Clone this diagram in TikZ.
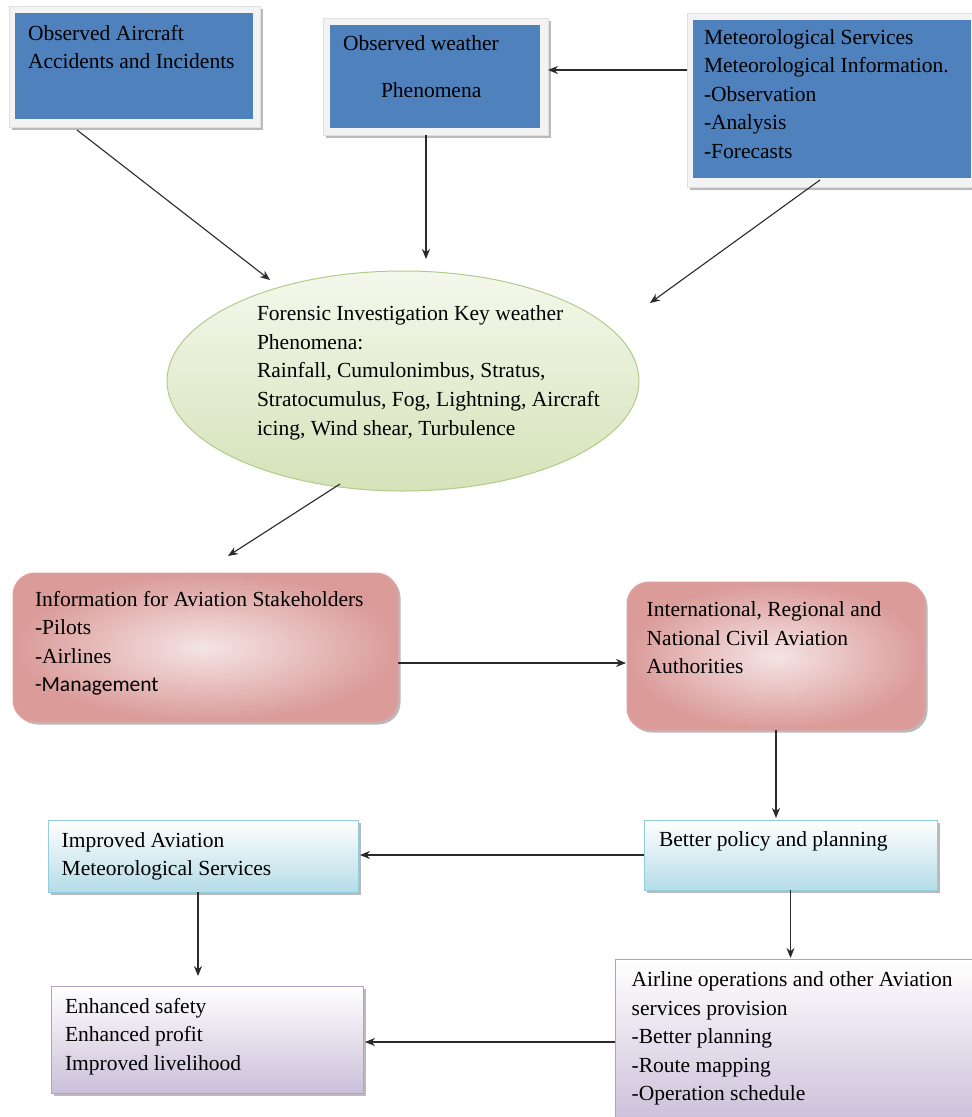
\documentclass[tikz,border=0pt]{standalone}
\usepackage{fontspec}
\setmainfont{Liberation Serif}
\newfontfamily\calib{Carlito}
\usetikzlibrary{shadows,shapes.geometric,arrows.meta,calc,fit}
\definecolor{bluebox}{HTML}{4F81BD}
\definecolor{framefill}{HTML}{F3F3F3}
\definecolor{ellTop}{HTML}{F4F8EC}
\definecolor{ellBot}{HTML}{D5E2B9}
\definecolor{ellLine}{HTML}{B3CB8A}
\definecolor{pinkD}{HTML}{DA9B99}
\definecolor{pinkL}{HTML}{F5E4E4}
\definecolor{pinkLine}{HTML}{DDA4A2}
\definecolor{lbBot}{HTML}{B5DCE7}
\definecolor{lbLine}{HTML}{93CDDD}
\definecolor{puBot}{HTML}{CBBFD9}
\definecolor{puLine}{HTML}{B3A2C7}
\definecolor{arrowcol}{HTML}{2A2A2A}
\begin{document}
\begin{tikzpicture}[x=1pt,y=-1pt,
  box/.style={inner sep=0pt, outer sep=0pt},
  shadowed/.style={drop shadow={shadow xshift=2.5pt,shadow yshift=-2.5pt,fill=black!45,opacity=0.6}},
  framebox/.style={box, fill=framefill, draw=black!12, line width=0.5pt, shadowed},
  bluefill/.style={box, fill=bluebox},
  ellbox/.style={ellipse, inner sep=0pt, outer sep=0pt, top color=ellTop, bottom color=ellBot, draw=ellLine, line width=1pt},
  pinkbox/.style={box, rounded corners=22pt, inner color=pinkL, outer color=pinkD, draw=pinkLine, line width=1pt, shadowed},
  lbbox/.style={box, top color=white, bottom color=lbBot, draw=lbLine, line width=1pt, shadowed},
  pubox/.style={box, top color=white, bottom color=puBot, draw=puLine, line width=1pt, shadowed},
  txt/.style={inner sep=0pt, outer sep=0pt, align=left, anchor=base west, text=black, font=\fontsize{21.5}{28.5}\selectfont},
  arr/.style={-{Stealth[length=10pt,width=8pt]}, draw=arrowcol, line width=1.1pt}
]
\useasboundingbox (0,0) rectangle (972,1117);
\fill[white] (0,0) rectangle (972,1117);

% top boxes (text nodes are anchored at the baseline of their last line)
\node[framebox, fit={(9,6) (260,127)}] (a1f) {};
\node[bluefill, fit={(15,13) (253,119)}] (a1) {};
\node[txt] (t1) at (28,68.5) {Observed Aircraft\\Accidents and Incidents};

\node[framebox, fit={(323,18) (548,135)}] (a2f) {};
\node[bluefill, fit={(330,25) (540,128)}] (a2) {};
\node[txt] (t2a) at (343,50) {Observed weather};
\node[txt] (t2b) at (381,97.3) {Phenomena};

\node[framebox, fit={(687,13) (976,187)}] (a3f) {};
\node[bluefill, fit={(693,20) (971,178)}] (a3) {};
\node[txt] (t3) at (704,158) {Meteorological Services\\Meteorological Information.\\-Observation\\-Analysis\\-Forecasts};

% ellipse
\node[ellbox, minimum width=472pt, minimum height=220pt] (ell) at (403,381) {};
\node[txt, font=\fontsize{21.5}{28.6}\selectfont] (te) at (257,435) {Forensic Investigation Key weather\\Phenomena:\\Rainfall, Cumulonimbus, Stratus,\\Stratocumulus, Fog, Lightning, Aircraft\\icing, Wind shear, Turbulence};

% pink boxes
\node[pinkbox, fit={(13,573) (398,722)}] (p1) {};
\node[txt] (tp1) at (35,691.5) {Information for Aviation Stakeholders\\-Pilots\\-Airlines\\{\calib -Management}};
\node[pinkbox, fit={(627,582) (925,730)}] (p2) {};
\node[txt] (tp2) at (646.7,673.5) {International, Regional and\\National Civil Aviation\\Authorities};

% light blue boxes
\node[lbbox, fit={(48,820) (358,892)}] (lb1) {};
\node[txt] (tl1) at (61.7,875.7) {Improved Aviation\\Meteorological Services};
\node[lbbox, fit={(644,820) (937,890)}] (lb2) {};
\node[txt] (tl2) at (659,846.7) {Better policy and planning};

% purple boxes
\node[pubox, fit={(51,986) (363,1093)}] (pu1) {};
\node[txt] (tu1) at (65,1070) {Enhanced safety\\Enhanced profit\\Improved livelihood};
\node[pubox, fit={(615,959) (978,1125)}] (pu2) {};
\node[txt] (tu2) at (631.7,1100.5) {Airline operations and other Aviation\\services provision\\-Better planning\\-Route mapping\\-Operation schedule};

% connectors
\draw[arr] ([yshift=30pt]a3f.west) -- ([yshift=30pt]a3f.west -| a2f.east);
\draw[arr] ([xshift=-57.5pt,yshift=-3pt]a1f.south) -- ([xshift=-133pt,yshift=-9pt]ell.north);
\draw[arr, shorten >=12pt] ([xshift=-9.5pt]a2f.south) -- ([xshift=-9.5pt]a2f.south |- ell.north);
\draw[arr] ([xshift=-11.5pt,yshift=7pt]a3f.south) -- ([xshift=11pt,yshift=78pt]ell.east);
\draw[arr] ([xshift=-63pt,yshift=7pt]ell.south) -- ([xshift=22.5pt,yshift=17pt]p1.north);
\draw[arr, shorten >=1pt] ([yshift=-15.5pt]p1.east) -- ([yshift=-15.5pt]p1.east -| p2.west);
\draw[arr, shorten >=2pt] (p2.south) -- (p2.south |- lb2.north);
\draw[arr, shorten >=2pt] (lb2.west) -- (lb2.west -| lb1.east);
\draw[arr, shorten >=1pt] (lb2.south) -- (lb2.south |- pu2.north);
\draw[arr, shorten >=10pt] ([xshift=-5pt]lb1.south) -- ([xshift=-5pt]lb1.south |- pu1.north);
\draw[arr, shorten >=2pt] (pu2.west) -- (pu2.west -| pu1.east);
\end{tikzpicture}
\end{document}
